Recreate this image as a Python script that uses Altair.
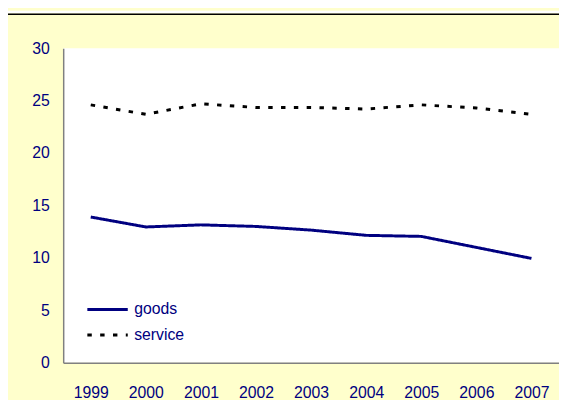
import altair as alt
import pandas as pd

years = ["1999", "2000", "2001", "2002", "2003", "2004", "2005", "2006", "2007"]
goods = [13.9, 12.95, 13.15, 13.0, 12.65, 12.15, 12.05, 11.0, 9.95]
service = [24.6, 23.7, 24.7, 24.35, 24.35, 24.2, 24.6, 24.3, 23.7]
series_names = ["goods", "service"]

rows = []
for y, g, s in zip(years, goods, service):
    rows.append({"year": y, "series": "goods", "value": g})
    rows.append({"year": y, "series": "service", "value": s})
df = pd.DataFrame(rows)

FONT = "Liberation Sans Narrow, Arial Narrow, Liberation Sans, Arial"
NAVY = "#000080"
W, H = 503, 319

one = pd.DataFrame({"a": [0]})

white_top = alt.Chart(one).mark_rect(color="white").encode(
    x=alt.value(-57), x2=alt.value(W), y=alt.value(-38), y2=alt.value(-35.5)
)
top_rule = alt.Chart(one).mark_rule(color="black", strokeWidth=1.5).encode(
    x=alt.value(-57), x2=alt.value(W), y=alt.value(-34.5)
)

lines = alt.Chart(df).mark_line(strokeCap="butt").encode(
    x=alt.X("year:N", sort=years, scale=alt.Scale(type="point", padding=0.5),
            axis=alt.Axis(title=None, labelAngle=0, ticks=False, domainColor="#808080",
                          domainWidth=1.5, labelColor=NAVY, labelFont=FONT,
                          labelFontSize=16, labelPadding=22)),
    y=alt.Y("value:Q", scale=alt.Scale(domain=[0, 30], nice=False),
            axis=alt.Axis(title=None, values=[0, 5, 10, 15, 20, 25, 30], grid=False,
                          ticks=False, domainColor="#808080", domainWidth=1.5,
                          labelColor=NAVY, labelFont=FONT, labelFontSize=16,
                          labelPadding=14)),
    color=alt.Color("series:N", scale=alt.Scale(domain=series_names, range=[NAVY, "black"]),
                    legend=alt.Legend(title=None, orient="none", legendX=23, legendY=252,
                                      symbolType="stroke", symbolSize=1681,
                                      symbolStrokeWidth=3, clipHeight=26, rowPadding=0,
                                      padding=0, labelOffset=5, labelFont=FONT,
                                      labelFontSize=16, labelColor=NAVY)),
    strokeDash=alt.StrokeDash("series:N",
                              scale=alt.Scale(domain=series_names, range=[[1, 0], [4.5, 8.5]]),
                              legend=None),
    strokeWidth=alt.value(3),
)

chart = alt.layer(white_top, top_rule, lines).properties(
    width=W, height=H,
    padding={"left": 56, "top": 38, "right": 0, "bottom": 35},
    background="#FFFFCC",
    autosize=alt.AutoSizeParams(type="none"),
).configure_view(fill="white", stroke=None)

chart.save("out.html", embed_options={"renderer": "svg", "actions": False})
